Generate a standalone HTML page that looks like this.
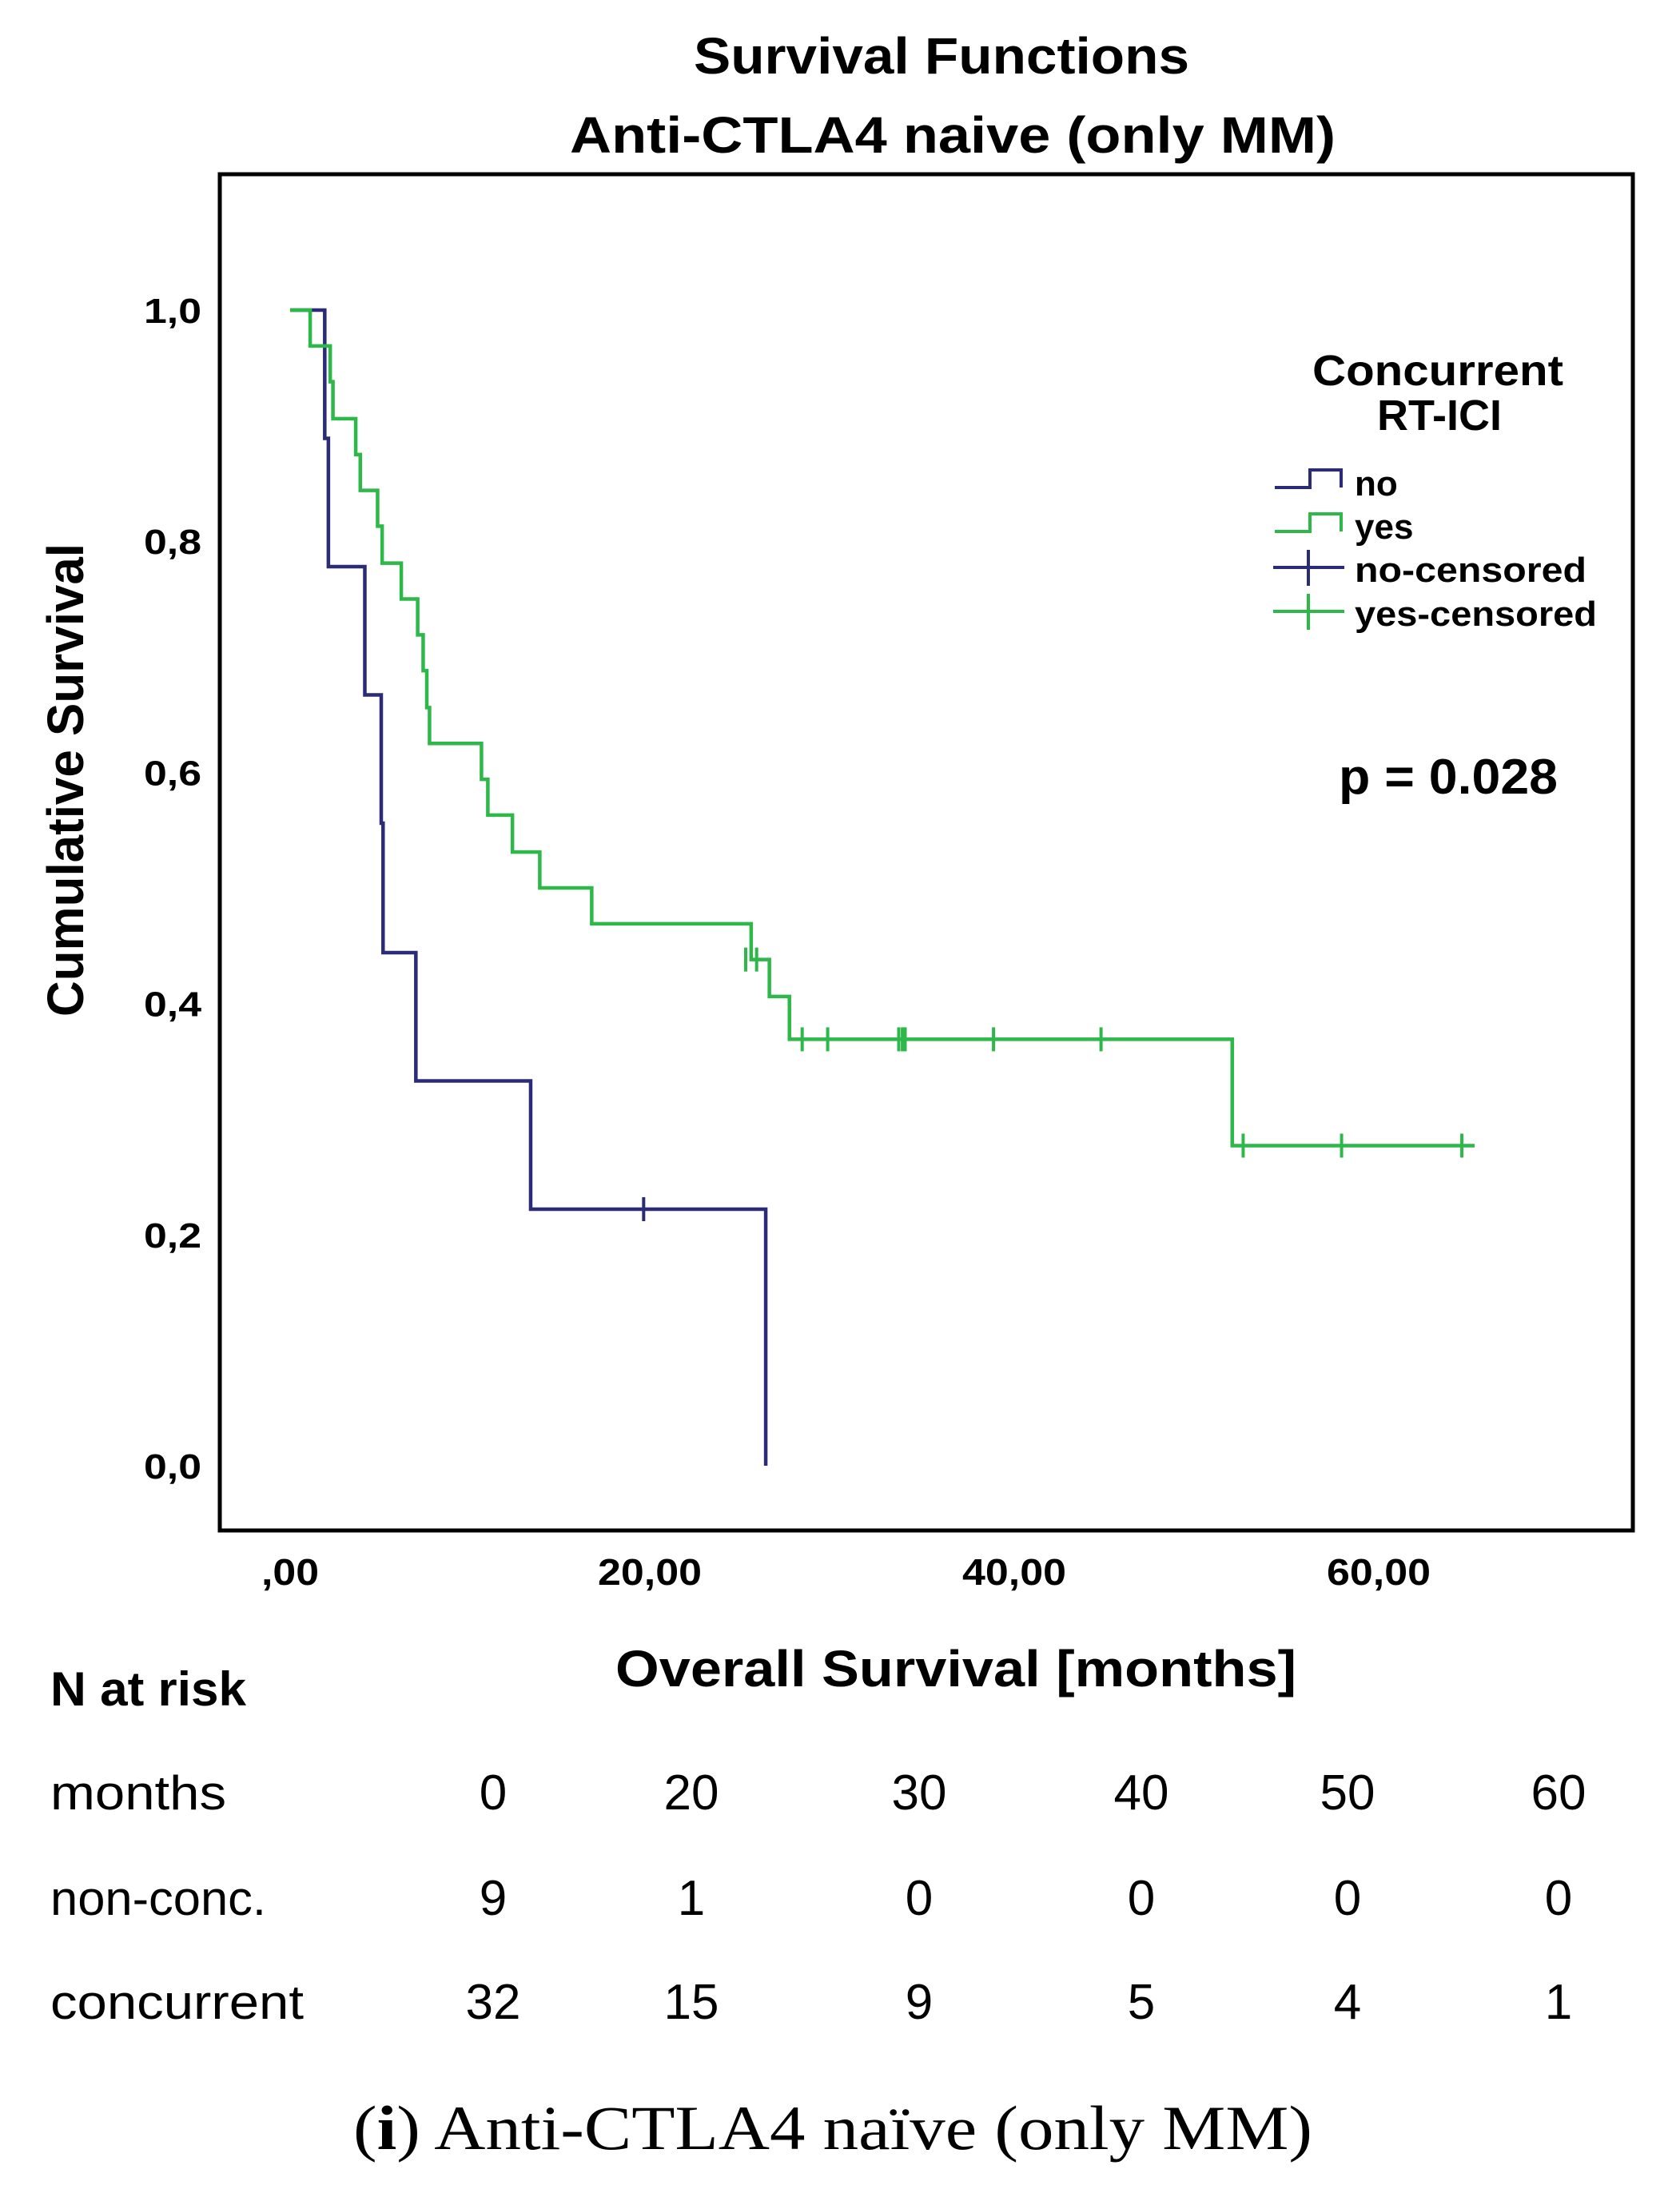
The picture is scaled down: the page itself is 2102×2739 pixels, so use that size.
<!DOCTYPE html>
<html><head><meta charset="utf-8"><style>
html,body{margin:0;padding:0;background:#fff;}
svg{display:block;}
text{font-family:"Liberation Sans",sans-serif;fill:#000;}
</style></head><body>
<svg id="chart" width="2102" height="2739" viewBox="0 0 2102 2739" xmlns="http://www.w3.org/2000/svg">
<rect width="2102" height="2739" fill="#fff"/>
<text x="1178" y="92" font-size="64" font-weight="bold" text-anchor="middle" textLength="620" lengthAdjust="spacingAndGlyphs">Survival Functions</text>
<text x="1192" y="191" font-size="64" font-weight="bold" text-anchor="middle" textLength="958" lengthAdjust="spacingAndGlyphs">Anti-CTLA4 naive (only MM)</text>
<rect x="275" y="218" width="1768" height="1697" fill="none" stroke="#000" stroke-width="5"/>
<text transform="translate(104,976) rotate(-90)" font-size="64" font-weight="bold" text-anchor="middle" textLength="592" lengthAdjust="spacingAndGlyphs">Cumulative Survival</text>
<text x="1196" y="2110" font-size="64" font-weight="bold" text-anchor="middle" textLength="852" lengthAdjust="spacingAndGlyphs">Overall Survival [months]</text>
<g id="yticks"></g><g id="xticks"></g><g id="series"></g>
<g>
<text x="1799" y="482" font-size="54" font-weight="bold" text-anchor="middle" textLength="314" lengthAdjust="spacingAndGlyphs">Concurrent</text>
<text x="1801" y="538" font-size="54" font-weight="bold" text-anchor="middle">RT-ICI</text>
<g><path d="M1595 610H1639V588H1678V610" fill="none" stroke="#2b2b78" stroke-width="4"/><text x="1695" y="620" font-size="44" font-weight="bold">no</text></g>
<g><path d="M1595 665H1639V643H1678V665" fill="none" stroke="#2fb84a" stroke-width="4"/><text x="1695" y="674" font-size="44" font-weight="bold">yes</text></g>
<g><path d="M1593 710H1682M1637 688V733" fill="none" stroke="#2b2b78" stroke-width="4"/><text x="1695" y="728" font-size="44" font-weight="bold" textLength="290" lengthAdjust="spacingAndGlyphs">no-censored</text></g>
<g><path d="M1593 765H1682M1637 743V788" fill="none" stroke="#2fb84a" stroke-width="4"/><text x="1695" y="783" font-size="44" font-weight="bold" textLength="303" lengthAdjust="spacingAndGlyphs">yes-censored</text></g>
</g>
<text x="1675" y="993" font-size="62" font-weight="bold" textLength="274" lengthAdjust="spacingAndGlyphs">p = 0.028</text>
<g id="risk">
<text x="63" y="2134" font-size="60" font-weight="bold" textLength="245" lengthAdjust="spacingAndGlyphs">N at risk</text>
</g>
<text x="1042" y="2689" font-size="78" text-anchor="middle" style="font-family:'Liberation Serif',serif" textLength="1200" lengthAdjust="spacingAndGlyphs">(<tspan font-weight="bold">i</tspan>) Anti-CTLA4 naïve (only MM)</text>
</svg>
<script>
const yTicks=[0,0.2,0.4,0.6,0.8,1.0];
const yTickLabels=["0,0","0,2","0,4","0,6","0,8","1,0"];
const xTicks=[0,20,40,60];
const xTickLabels=[",00","20,00","40,00","60,00"];
const noTimes=[0,1.9,2.1,4.1,5.0,5.1,6.9,13.2,26.1];
const noSurv=[1,0.889,0.778,0.667,0.556,0.444,0.333,0.222,0];
const noCensorTimes=[19.4];
const noCensorSurv=[0.222];
const yesTimes=[0,1.1,2.2,2.35,3.6,3.85,4.8,5.05,6.1,7.0,7.3,7.5,7.65,10.5,10.85,12.2,13.7,16.55,25.3,26.3,27.4,51.7];
const yesSurv=[1,0.969,0.938,0.906,0.875,0.844,0.813,0.781,0.750,0.719,0.688,0.656,0.625,0.594,0.563,0.531,0.500,0.469,0.438,0.406,0.369,0.277];
const yesEnd=65.0;
const yesCensorTimes=[25.0,25.6,28.1,29.5,33.4,33.6,33.75,38.6,44.5,52.3,57.7,64.3];
const yesCensorSurv=[0.438,0.438,0.369,0.369,0.369,0.369,0.369,0.369,0.369,0.277,0.277,0.277];
const riskMonths=["0","20","30","40","50","60"];
const riskNon=["9","1","0","0","0","0"];
const riskConc=["32","15","9","5","4","1"];
const NS="http://www.w3.org/2000/svg";
function xs(m){return 363+m*22.8;}
function ys(v){return 1834-v*1446;}
function mk(tag,attrs,parent){const e=document.createElementNS(NS,tag);for(const k in attrs)e.setAttribute(k,attrs[k]);parent.appendChild(e);return e;}
const yg=document.getElementById('yticks');
yTicks.forEach((v,i)=>{const t=mk('text',{x:252,y:ys(v)+16,'font-size':44,'font-weight':'bold','text-anchor':'end',textLength:72,lengthAdjust:'spacingAndGlyphs'},yg);


t.textContent=yTickLabels[i];});
const xg=document.getElementById('xticks');
xTicks.forEach((v,i)=>{const w=xTickLabels[i].length>3?130:72;const t=mk('text',{x:xs(v)-(i==0?0:6),y:1983,'font-size':46,'font-weight':'bold','text-anchor':'middle',textLength:w,lengthAdjust:'spacingAndGlyphs'},xg);


t.textContent=xTickLabels[i];});
const sg=document.getElementById('series');
function stepPath(times,surv,end){let d='M'+xs(times[0])+' '+ys(surv[0]);for(let i=1;i<times.length;i++){d+='H'+xs(times[i])+'V'+ys(surv[i]);}if(end!==undefined)d+='H'+xs(end);return d;}
const pn=mk('path',{d:stepPath(noTimes,noSurv),fill:'none',stroke:'#2b2b78','stroke-width':4.5},sg);


noCensorTimes.forEach((m,i)=>{const c=mk('path',{d:'M'+xs(m)+' '+(ys(noCensorSurv[i])-15)+'V'+(ys(noCensorSurv[i])+15),stroke:'#2b2b78','stroke-width':4},sg);

});
const py=mk('path',{d:stepPath(yesTimes,yesSurv,yesEnd),fill:'none',stroke:'#2fb84a','stroke-width':4.5},sg);


yesCensorTimes.forEach((m,i)=>{const c=mk('path',{d:'M'+xs(m)+' '+(ys(yesCensorSurv[i])-15)+'V'+(ys(yesCensorSurv[i])+15),stroke:'#2fb84a','stroke-width':4},sg);

});
const rg=document.getElementById('risk');
const colX=[617,865,1150,1428,1686,1950];
const rows=[["months",riskMonths,2264,220],["non-conc.",riskNon,2396,270],["concurrent",riskConc,2526,317]];
rows.forEach(r=>{const l=mk('text',{x:63,y:r[2],'font-size':60,textLength:r[3],lengthAdjust:'spacingAndGlyphs'},rg);


l.textContent=r[0];
r[1].forEach((v,i)=>{const t=mk('text',{x:colX[i],y:r[2],'font-size':62,'text-anchor':'middle'},rg);


t.textContent=v;});});
</script>
</body></html>
